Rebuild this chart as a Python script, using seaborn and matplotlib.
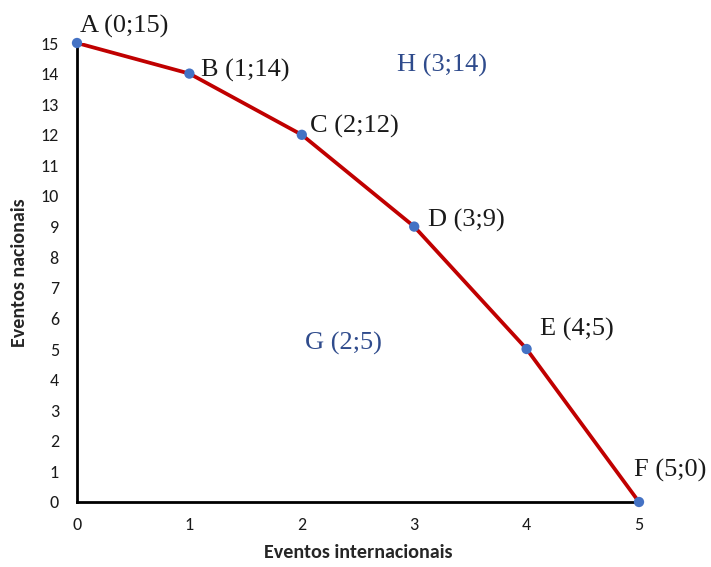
import pandas as pd
import seaborn as sns
import matplotlib
matplotlib.use('Agg')
import matplotlib.pyplot as plt

# pontos da fronteira
pontos = ['A', 'B', 'C', 'D', 'E', 'F']
internacionais = [0, 1, 2, 3, 4, 5]
nacionais = [15, 14, 12, 9, 5, 0]

# pontos soltos (dentro e fora da curva)
extras = ['H', 'G']
extras_x = [3, 2]
extras_y = [14, 5]

df = pd.DataFrame({'x': internacionais, 'y': nacionais, 'p': pontos})

sns.set_style('white')
plt.rcParams['font.family'] = ['Carlito', 'Liberation Sans Narrow', 'Liberation Sans', 'DejaVu Sans']

fig = plt.figure(figsize=(7.11, 5.67), dpi=100)
ax = fig.add_axes([77 / 711, 1 - 502 / 567, (639 - 77) / 711, (502 - 43) / 567])

sns.lineplot(data=df, x='x', y='y', color='#C00000', linewidth=2.7, ax=ax, sort=False)
sns.scatterplot(data=df, x='x', y='y', color='#4472C4', s=55, edgecolor='none', ax=ax,
                clip_on=False, zorder=5)

ax.set_xlim(0, 5)
ax.set_ylim(0, 15)
ax.set_xticks(range(0, 6))
ax.set_yticks(range(0, 16))
ax.tick_params(axis='both', length=0, labelsize=13, colors='#1a1a1a')
ax.tick_params(axis='y', pad=13)
ax.tick_params(axis='x', pad=11)

for s in ['top', 'right']:
    ax.spines[s].set_visible(False)
for s in ['left', 'bottom']:
    ax.spines[s].set_color('black')
    ax.spines[s].set_linewidth(2)

ax.set_xlabel('Eventos internacionais', fontsize=14.5, fontweight='bold', labelpad=8)
ax.set_ylabel('Eventos nacionais', fontsize=14.5, fontweight='bold', labelpad=9)

# deslocamentos dos rótulos em pixels
offsets = [(3, 17), (12, 3), (8, 8), (14, 6), (13, 20), (-5, 32)]
for p, xv, yv, (dx, dy) in zip(pontos, internacionais, nacionais, offsets):
    ax.annotate(f'{p} ({xv};{yv})', (xv, yv), xytext=(dx, dy), textcoords='offset pixels',
                ha='left', va='center', fontsize=19, family='Liberation Serif',
                color='#1a1a1a', annotation_clip=False)

off_extra = [(-17, 8), (3, 6)]
for p, xv, yv, (dx, dy) in zip(extras, extras_x, extras_y, off_extra):
    ax.annotate(f'{p} ({xv};{yv})', (xv, yv), xytext=(dx, dy), textcoords='offset pixels',
                ha='left', va='center', fontsize=19, family='Liberation Serif',
                color='#2F4B8C', annotation_clip=False)

fig.savefig('out.png', dpi=100)
